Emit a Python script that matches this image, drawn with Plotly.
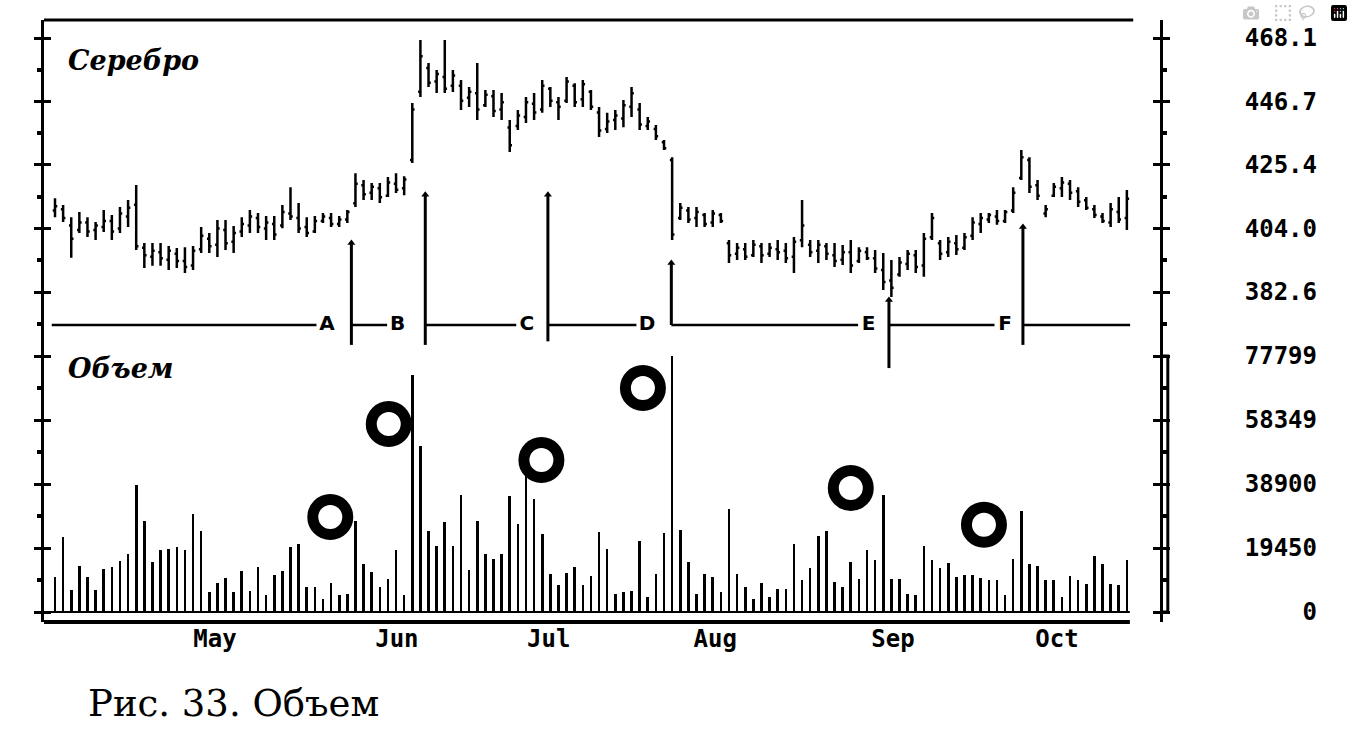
import plotly.graph_objects as go

# ---------------- data ----------------
price_high = [414.2, 411.9, 407.8, 409.5, 407.8, 406.2, 410.2, 408.5, 411.2, 413.6,
              418.6, 399.1, 399.1, 399.1, 398.1, 397.4, 397.7, 398.1, 404.5, 402.5,
              406.8, 406.8, 404.8, 407.8, 410.2, 409.2, 408.2, 408.2, 411.9, 417.9,
              412.6, 407.8, 408.2, 409.2, 409.2, 408.2, 410.2, 422.6, 420.3, 419.3,
              419.3, 421.3, 422.6, 421.6, 446.2,
              467.4, 459.7, 457.3, 467.4, 457.3, 454.0, 451.6, 459.7, 450.6, 450.6,
              449.6, 440.5, 443.9, 448.2, 449.6, 454.0, 451.6, 448.2, 455.0, 452.9,
              454.0, 450.6, 444.9, 442.9, 443.9, 447.2, 451.6, 446.2, 441.5, 438.8,
              433.8, 428.0,
              412.6, 411.2, 411.2, 409.2, 410.2, 409.2, 400.1, 399.1, 399.1, 400.1,
              399.1, 399.1, 400.1, 399.1, 401.1, 413.6, 400.1, 400.1, 399.1, 399.1,
              398.4, 400.1, 397.7, 397.7, 396.7, 395.7, 393.4, 394.4, 396.7, 396.7,
              402.5, 409.2, 400.1, 401.1, 401.8, 402.5, 407.8, 409.2, 409.2, 410.2,
              410.2, 417.9, 430.4, 428.0, 420.3, 411.9, 419.3, 421.3, 420.3, 417.9,
              414.6, 411.9, 409.2, 412.6, 414.6, 416.9]
price_low = [407.8, 406.2, 394.1, 402.5, 401.1, 400.1, 402.8, 400.1, 402.5, 404.5,
             396.7, 390.7, 391.4, 391.4, 390.0, 390.7, 389.0, 390.0, 395.7, 395.7,
             394.4, 396.7, 395.7, 401.1, 402.5, 402.5, 400.1, 400.1, 404.1, 406.8,
             402.5, 401.1, 402.5, 405.8, 404.5, 404.5, 405.8, 411.2, 413.6, 413.6,
             412.6, 414.6, 415.9, 415.2, 426.0,
             448.2, 451.6, 449.6, 449.6, 449.9, 443.9, 444.9, 440.5, 444.9, 441.5,
             440.5, 429.7, 437.1, 439.5, 440.5, 442.9, 444.9, 440.5, 446.2, 444.9,
             444.9, 443.9, 434.8, 436.1, 437.1, 438.1, 441.5, 437.1, 437.1, 433.8,
             430.4, 400.1,
             406.8, 405.8, 404.5, 404.5, 404.5, 405.8, 392.4, 393.4, 393.4, 394.4,
             392.4, 394.4, 393.4, 392.4, 389.0, 397.7, 394.4, 392.4, 393.4, 391.0,
             391.7, 389.0, 392.4, 393.4, 389.0, 383.3, 380.9, 387.7, 390.0, 389.0,
             387.7, 400.1, 393.4, 394.4, 395.1, 396.7, 400.1, 402.5, 405.8, 405.2,
             405.8, 409.2, 420.3, 415.9, 413.6, 407.8, 414.6, 414.6, 413.6, 411.2,
             410.2, 407.5, 405.8, 404.5, 405.8, 403.5]
price_open = [410.0, 410.5, 405.0, 403.5, 406.0, 403.5, 404.5, 406.5, 404.0, 408.0,
              412.0, 397.5, 394.5, 396.0, 393.5, 395.5, 393.0, 391.5, 397.0, 400.5,
              398.5, 403.5, 399.5, 403.0, 405.0, 407.5, 404.0, 405.5, 405.0, 409.0,
              407.5, 404.5, 403.0, 406.5, 407.5, 405.5, 407.0, 412.5, 418.5, 416.0,
              417.5, 415.0, 419.0, 417.5, 427.0,
              450.0, 458.0, 453.5, 455.0, 452.0, 452.0, 448.0, 449.5, 445.5, 448.5,
              444.0, 438.0, 438.5, 441.5, 446.0, 444.0, 451.0, 446.5, 447.0, 452.0,
              447.5, 450.0, 443.0, 437.5, 440.5, 441.0, 445.0, 444.0, 438.5, 437.5,
              433.0, 427.0,
              407.5, 410.0, 407.5, 408.5, 406.0, 408.5, 399.0, 395.5, 397.0, 395.0,
              398.0, 395.5, 397.0, 396.5, 394.5, 400.0, 398.5, 396.5, 398.0, 395.0,
              393.5, 396.0, 393.0, 396.0, 394.0, 390.0, 386.5, 388.5, 392.0, 395.0,
              391.5, 401.0, 399.0, 396.0, 399.0, 397.5, 401.5, 405.5, 407.0, 408.0,
              406.5, 410.0, 421.0, 427.0, 418.5, 409.0, 415.0, 417.5, 419.0, 416.5,
              413.5, 410.5, 408.0, 406.0, 409.5, 407.5]
price_close = [411.5, 407.5, 400.5, 406.0, 403.0, 405.0, 406.5, 403.0, 409.0, 411.0,
               398.0, 395.0, 396.5, 394.0, 396.5, 393.0, 391.0, 396.5, 401.5, 398.0,
               404.0, 399.0, 402.5, 405.5, 408.0, 404.5, 406.0, 402.0, 409.5, 408.0,
               404.0, 402.5, 406.5, 408.0, 405.5, 407.0, 409.5, 419.0, 415.5, 418.0,
               414.5, 419.5, 417.0, 420.5, 444.0,
               462.0, 453.0, 456.0, 451.0, 455.5, 447.0, 450.0, 444.0, 449.0, 443.5,
               446.5, 432.0, 442.0, 446.5, 443.0, 452.0, 447.0, 445.0, 453.5, 446.5,
               452.5, 445.0, 437.0, 440.0, 442.0, 445.5, 449.5, 439.0, 440.0, 435.0,
               431.0, 402.0,
               411.0, 407.0, 409.5, 405.5, 409.0, 406.5, 395.0, 397.5, 394.5, 398.5,
               395.0, 397.5, 396.0, 394.0, 399.5, 405.0, 396.0, 398.5, 395.5, 393.0,
               396.0, 391.5, 396.5, 394.0, 390.5, 386.0, 384.0, 392.5, 395.5, 391.0,
               400.5, 407.5, 395.5, 399.5, 397.0, 401.0, 406.0, 407.5, 408.5, 406.5,
               409.5, 416.0, 428.0, 418.0, 415.0, 410.5, 418.0, 419.5, 416.0, 413.0,
               411.0, 408.5, 406.5, 410.5, 407.0, 414.0]
volume = [10600, 22800, 6600, 14100, 10600, 6600, 13100, 13600, 15500, 17700,
          38700, 27800, 15200, 18900, 19200, 19900, 18900, 29800, 24700, 6100,
          8800, 10400, 6100, 12600, 6400, 13800, 5100, 11100, 12600, 19700,
          20700, 7600, 7600, 4000, 8800,
          5100, 5400, 27800, 14600, 12100, 7600, 10100, 18700, 5100, 72000,
          50500, 24700, 20200, 27300, 20200, 35700, 12800, 27800, 17700, 16200,
          17700, 35400, 26800, 41600, 34400, 23800, 11600, 8100, 11800, 13600,
          8100, 10800, 24300, 19200,
          5400, 6100, 6400, 21500, 4500, 11400, 24000, 77799, 25000, 15200,
          5600, 11600, 10600, 6100, 31300, 11400, 7600, 4000, 8800, 4700,
          7100, 7100, 20700, 9800, 13400, 23200, 24700, 9100, 7600, 15200,
          10100, 18700, 15900, 35700, 10100,
          10100, 5600, 5100, 20200, 15900, 13400, 14900, 10600, 11100, 11100,
          10400, 9600, 9600, 5100, 16200, 30800, 14600, 14100, 9800, 9600,
          4700, 10800, 9800, 8600, 16900, 14600, 8600, 8100, 15700]
day_index = list(range(len(volume)))

months = ["May", "Jun", "Jul", "Aug", "Sep", "Oct"]
month_pos = [19.7, 42.1, 60.8, 81.3, 103.2, 123.4]

price_labels = [468.1, 446.7, 425.4, 404.0, 382.6]
price_label_text = ["468.1", "446.7", "425.4", "404.0", "382.6"]
price_minor = [457.4, 436.1, 414.7, 393.3, 371.9]
vol_labels = [77799, 58349, 38900, 19450, 0]
vol_label_text = ["77799", "58349", "38900", "19450", "0"]
vol_minor = [68074, 48624, 29175, 9725]

event_letters = ["A", "B", "C", "D", "E", "F"]
event_idx = [36.5, 45.6, 60.7, 75.9, 102.7, 119.2]
event_top = [399.1, 415.3, 415.3, 392.4, 379.9, 404.5]
event_bottom = [364.8, 364.8, 366.0, 371.5, 357.0, 364.8]
letter_idx = [33.5, 42.2, 58.1, 72.9, 100.2, 117.0]
event_level = 371.5
line_start, line_end = -0.4, 132.4

circle_idx = [33.9, 41.1, 59.9, 72.4, 98.0, 114.4]
circle_vol = [28900, 57100, 46200, 68100, 37700, 26500]

# ---------------- figure ----------------
fig = go.Figure()

fig.add_trace(go.Ohlc(
    x=day_index, open=price_open, high=price_high, low=price_low, close=price_close,
    increasing=dict(line=dict(color="black", width=2.5)),
    decreasing=dict(line=dict(color="black", width=2.5)),
    tickwidth=0.28, xaxis="x", yaxis="y", hoverinfo="skip"))

fig.add_trace(go.Bar(
    x=day_index, y=volume, width=0.32, marker=dict(color="black", line=dict(width=0)),
    xaxis="x", yaxis="y2", hoverinfo="skip"))

# event baseline with gaps for letters
hx, hy = [], []
prev = line_start
for li, ei in zip(letter_idx, event_idx):
    hx += [prev, li - 1.3, None]
    hy += [event_level, event_level, None]
    prev = ei
hx += [prev, line_end]
hy += [event_level, event_level]
fig.add_trace(go.Scatter(x=hx, y=hy, mode="lines", line=dict(color="black", width=2.5),
                         xaxis="x", yaxis="y", hoverinfo="skip"))

vx, vy = [], []
for ei, t, b in zip(event_idx, event_top, event_bottom):
    vx += [ei, ei, None]
    vy += [b, t, None]
fig.add_trace(go.Scatter(x=vx, y=vy, mode="lines", line=dict(color="black", width=3),
                         xaxis="x", yaxis="y", hoverinfo="skip"))
fig.add_trace(go.Scatter(x=event_idx, y=event_top, mode="markers",
                         marker=dict(symbol="triangle-up", size=7, color="black"),
                         xaxis="x", yaxis="y", hoverinfo="skip"))
fig.add_trace(go.Scatter(x=letter_idx, y=[event_level] * len(letter_idx), mode="text",
                         text=event_letters,
                         textfont=dict(family="DejaVu Sans", size=20, color="black", weight="bold"),
                         xaxis="x", yaxis="y", hoverinfo="skip"))

fig.add_trace(go.Scatter(x=circle_idx, y=circle_vol, mode="markers",
                         marker=dict(symbol="circle-open", size=35, color="black",
                                     line=dict(color="black", width=11)),
                         xaxis="x", yaxis="y2", hoverinfo="skip", cliponaxis=False))

# invisible carriers so the label / tick overlay axes are drawn
for ax in ["y3", "y4", "y5", "y6"]:
    fig.add_trace(go.Scatter(x=[None], y=[None], mode="markers", xaxis="x", yaxis=ax,
                             hoverinfo="skip", showlegend=False))

W, H = 1353, 749
ml, mr, mt, mb = 44, 20, 20, 127
pw = W - ml - mr
ph = H - mt - mb


def px_x(p):
    return (p - ml) / pw


def px_y(p):
    return (H - mb - p) / ph


x_dom_end = px_x(1160)
price_range = [356.35, 474.16]
vol_range = [-3039, 79622]
price_dom = [px_y(370), 1.0]
vol_dom = [0.0, px_y(350)]

axis_common = dict(showgrid=False, zeroline=False, fixedrange=True)
frame_axis = dict(showline=True, linecolor="black", linewidth=3, ticks="outside",
                  ticklen=7, tickwidth=3, tickcolor="black", mirror="ticks",
                  showticklabels=False, side="left", **axis_common)
inner_axis = dict(showline=False, ticks="inside", ticklen=7, tickwidth=3, tickcolor="black",
                  mirror="ticks", showticklabels=False, side="left", anchor="x", **axis_common)
label_font = dict(family="DejaVu Sans Mono", size=24, color="black", weight="bold")

fig.update_layout(
    width=W, height=H,
    margin=dict(l=ml, r=mr, t=mt, b=mb),
    paper_bgcolor="white", plot_bgcolor="rgba(0,0,0,0)",
    showlegend=False, bargap=0,
    xaxis=dict(domain=[0, x_dom_end], range=[-1.355, 136.08], anchor="y2",
               showline=False, ticks="", tickvals=month_pos, ticktext=months,
               tickfont=dict(family="DejaVu Sans Mono", size=24, color="black", weight="bold"),
               rangeslider=dict(visible=False), **axis_common),
    yaxis=dict(domain=price_dom, range=price_range, anchor="x", tickvals=price_labels,
               minor=dict(tickvals=price_minor, ticks="outside", ticklen=4, tickwidth=4,
                          tickcolor="black"),
               **frame_axis),
    yaxis2=dict(domain=vol_dom, range=vol_range, anchor="x", tickvals=vol_labels,
                minor=dict(tickvals=vol_minor, ticks="outside", ticklen=4, tickwidth=4,
                           tickcolor="black"),
                **frame_axis),
    yaxis3=dict(overlaying="y", anchor="free", position=px_x(1317), side="left",
                range=price_range, tickvals=price_labels, ticktext=price_label_text,
                showline=False, ticks="", tickfont=label_font, **axis_common),
    yaxis4=dict(overlaying="y2", anchor="free", position=px_x(1317), side="left",
                range=vol_range, tickvals=vol_labels, ticktext=vol_label_text,
                showline=False, ticks="", tickfont=label_font, **axis_common),
    yaxis5=dict(overlaying="y", range=price_range, tickvals=price_labels, **inner_axis),
    yaxis6=dict(overlaying="y2", range=vol_range, tickvals=vol_labels, **inner_axis),
)

# frame lines: top border, bottom axis, right bracket
fig.add_shape(type="line", xref="x domain", yref="y domain", x0=0, x1=0.976, y0=1, y1=1,
              line=dict(color="black", width=3))
fig.add_shape(type="line", xref="x domain", yref="y2 domain", x0=0, x1=0.973, y0=0, y1=0,
              line=dict(color="black", width=4))
fig.add_shape(type="line", xref="x domain", yref="y2", x0=0, x1=0.973, y0=0, y1=0,
              line=dict(color="black", width=2))
fig.add_shape(type="path", xref="x domain", yref="y2",
              path="M 1.0,77799 L 1.007,77799 L 1.007,0 L 1.0,0",
              line=dict(color="black", width=3))

title_font = dict(family="DejaVu Serif", size=27, color="black", weight="bold", style="italic")
fig.add_annotation(text="Серебро", xref="paper", yref="paper", x=px_x(66), y=px_y(61),
                   xanchor="left", yanchor="middle", showarrow=False, font=title_font)
fig.add_annotation(text="Объем", xref="paper", yref="paper", x=px_x(66), y=px_y(368),
                   xanchor="left", yanchor="middle", showarrow=False, font=title_font)
fig.add_annotation(text="Рис. 33. Объем", xref="paper", yref="paper", x=px_x(86), y=px_y(703),
                   xanchor="left", yanchor="middle", showarrow=False,
                   font=dict(family="DejaVu Serif", size=37, color="black"))

fig.write_html("out.html", post_script="document.body.style.margin='0';")
